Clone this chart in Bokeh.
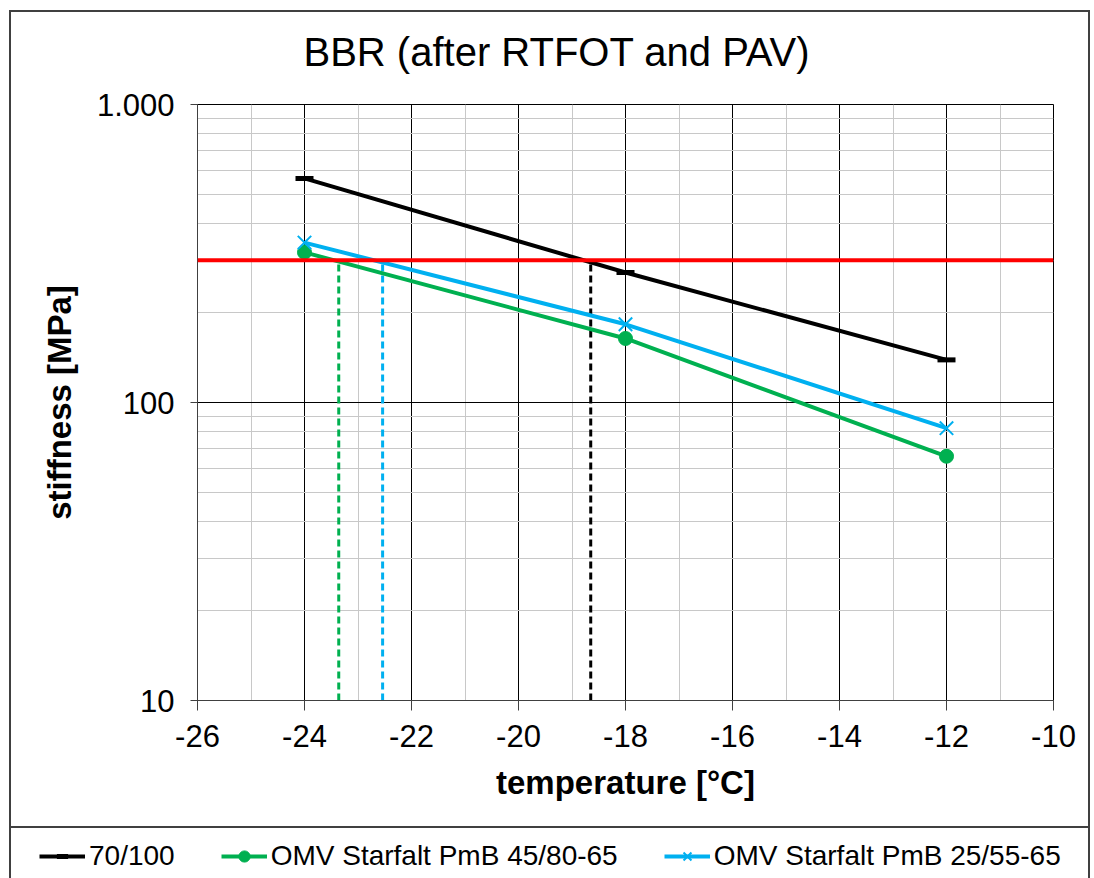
from bokeh.plotting import figure
from bokeh.layouts import column
from bokeh.models import Range1d, FixedTicker, Span, Legend, LegendItem
from bokeh.embed import file_html
from bokeh.resources import INLINE

# ---- data ----
temperatures = [-24, -18, -12]
stiff_70_100 = [565, 273, 139]
stiff_pmb_45_80 = [319, 164, 66]
stiff_pmb_25_55 = [344, 183, 82]
threshold = 300
crossing_temps = [-18.65, -23.36, -22.54]
crossing_colors = ["#000000", "#00b050", "#00b0f0"]
x_ticks = [-26, -24, -22, -20, -18, -16, -14, -12, -10]
x_minor = [-25, -23, -21, -19, -17, -15, -13, -11]
x_labels = {t: str(t) for t in x_ticks}
y_ticks = [10, 100, 1000]
y_minor = [20, 30, 40, 50, 60, 70, 80, 90, 200, 300, 400, 500, 600, 700, 800, 900]
y_labels = {10: "10", 100: "100", 1000: "1.000"}
series_names = ["70/100", "OMV Starfalt PmB 45/80-65", "OMV Starfalt PmB 25/55-65"]
series_colors = ["#000000", "#00b050", "#00b0f0"]

FONT = "Liberation Sans"
W = 1094
HA, HB = 828, 50
FL, FR, FT, FB = 197, 1053, 104, 700
LINE = "linear-gradient(#404040, #404040)"

css_a = {
    "background-color": "white",
    "background-image": ", ".join([LINE] * 4),
    "background-position": "9px 10px, 9px 10px, 1088px 10px, 9px 826px",
    "background-size": "1081px 2px, 2px 818px, 2px 818px, 1081px 2px",
    "background-repeat": "no-repeat",
}
css_b = {
    "background-color": "white",
    "background-image": ", ".join([LINE] * 2),
    "background-position": "9px 0px, 1088px 0px",
    "background-size": "2px 50px, 2px 50px",
    "background-repeat": "no-repeat",
}

p = figure(width=W, height=HA, output_backend="svg", toolbar_location=None,
           y_axis_type="log", x_range=Range1d(-26, -10), y_range=Range1d(10, 1000),
           min_border_left=FL, min_border_right=W - FR, min_border_top=FT,
           min_border_bottom=HA - FB, styles=css_a)
p.frame_align = False
p.background_fill_color = "white"
p.border_fill_color = None
p.outline_line_color = "#000000"
p.outline_line_width = 1

# title
p.title.text = "BBR  (after RTFOT and PAV)"
p.title.text_font = FONT
p.title.text_font_size = "40px"
p.title.text_font_style = "normal"
p.title.text_color = "black"
p.title.align = "left"
p.title.offset = 106
p.title.vertical_align = "top"
p.title.standoff = 57

# axes
p.xaxis.ticker = FixedTicker(ticks=x_ticks, minor_ticks=x_minor)
p.yaxis.ticker = FixedTicker(ticks=y_ticks, minor_ticks=y_minor)
p.xaxis.major_label_overrides = x_labels
p.yaxis.major_label_overrides = y_labels
for ax in (p.xaxis, p.yaxis):
    ax.axis_line_color = "#404040"
    ax.major_tick_line_color = "#404040"
    ax.major_tick_in = 0
    ax.minor_tick_in = 0
    ax.minor_tick_out = 0
    ax.major_label_text_font = FONT
    ax.major_label_text_font_size = "31px"
    ax.major_label_text_color = "black"
    ax.axis_label_text_font = FONT
    ax.axis_label_text_font_size = "33px"
    ax.axis_label_text_font_style = "bold"
    ax.axis_label_text_color = "black"
p.xaxis.major_tick_out = 10
p.yaxis.major_tick_out = 7
p.xaxis.major_label_standoff = 14
p.yaxis.major_label_standoff = 16
p.xaxis.axis_label = "temperature [°C]"
p.yaxis.axis_label = "stiffness [MPa]"
p.xaxis.axis_label_standoff = 14
p.yaxis.axis_label_standoff = 16

# grid
for g in (p.xgrid, p.ygrid):
    g.grid_line_color = "#000000"
    g.grid_line_width = 1
    g.minor_grid_line_color = "#c8c8c8"
    g.minor_grid_line_width = 1

# threshold
p.add_layout(Span(location=threshold, dimension="width", line_color="#ff0000", line_width=4))

# crossing verticals
p.segment(x0=crossing_temps, y0=[10] * 3, x1=crossing_temps, y1=[threshold] * 3,
          line_color=crossing_colors, line_width=3, line_dash="7 4")

# series
series_values = [stiff_70_100, stiff_pmb_45_80, stiff_pmb_25_55]
marker_styles = [dict(marker="dash", size=18, line_width=5),
                 dict(marker="circle", size=14, line_width=1),
                 dict(marker="x", size=19, line_width=2)]


def draw(fig, xs, ys, color, mstyle):
    r = fig.line(xs, ys, line_color=color, line_width=4)
    m = fig.scatter(xs, ys, fill_color=color, line_color=color, **mstyle)
    return r, m


for vals, col, ms in zip(series_values, series_colors, marker_styles):
    draw(p, temperatures, vals, col, ms)

# legend strip (below the chart); its renderers sit outside the visible range
q = figure(width=W, height=HB, output_backend="svg", toolbar_location=None,
           x_range=Range1d(0, 1), y_range=Range1d(0, 1),
           x_axis_location=None, y_axis_location=None, min_border=0, styles=css_b)
q.frame_align = False
q.grid.visible = False
q.outline_line_color = None
q.background_fill_color = None
q.border_fill_color = None
items = []
for name, col, ms in zip(series_names, series_colors, marker_styles):
    r, m = draw(q, [5, 6], [5, 6], col, ms)
    items.append(LegendItem(label=name, renderers=[r, m]))
legend = Legend(items=items, location=(39, 6), orientation="horizontal",
                label_text_font=FONT, label_text_font_size="28px",
                label_text_color="black", glyph_width=46, glyph_height=28,
                label_standoff=4, spacing=46, padding=0, margin=0,
                border_line_alpha=0, background_fill_alpha=0)
q.add_layout(legend, "center")

layout = column(p, q, spacing=0)
open("out.html", "w").write(file_html(layout, INLINE))
